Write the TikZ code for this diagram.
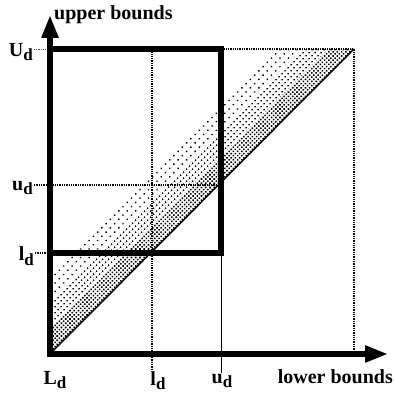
\documentclass[tikz,border=0pt]{standalone}
\usepackage{fontspec}
\setmainfont{Liberation Serif}
\usetikzlibrary{positioning}
\usetikzlibrary{calc}
\usetikzlibrary{patterns.meta}
\usetikzlibrary{arrows.meta}

\newcommand{\dsub}{\raisebox{-0.5ex}{\fontsize{17}{17}\selectfont d}}

\tikzdeclarepattern{name=densedots, type=uncolored,
  bottom left={(-1.5pt,-1.5pt)}, top right={(1.5pt,1.5pt)}, tile size={(3pt,3pt)},
  tile transformation={rotate=45},
  code={\fill (0pt,0pt) circle (1.1pt);}}
\tikzdeclarepattern{name=middots, type=uncolored,
  bottom left={(-2pt,-2pt)}, top right={(2pt,2pt)}, tile size={(4pt,4pt)},
  tile transformation={rotate=45},
  code={\fill (0pt,0pt) circle (1pt);}}
\tikzdeclarepattern{name=sparsedots, type=uncolored,
  bottom left={(-3pt,-3pt)}, top right={(3pt,3pt)}, tile size={(6pt,6pt)},
  tile transformation={rotate=45},
  code={\fill (0pt,0pt) circle (1pt);}}

\begin{document}
\begin{tikzpicture}[
    x=1pt, y=1pt,
    axis/.style={line width=5.5pt, line join=miter,
      {Triangle[length=23pt,width=16pt]}-{Triangle[length=23pt,width=16pt]}},
    bound/.style={line width=6pt, line join=miter},
    guide/.style={densely dotted, line width=1.3pt},
    tick/.style={densely dotted, line width=0.8pt, black!70},
    lbl/.style={font=\fontsize{20}{23}\selectfont\bfseries, inner sep=1pt}
]
    \useasboundingbox (0,0) rectangle (395,406);

    % corner points of the plane
    \coordinate (O) at (50,52);
    \coordinate (Ytip) at (50,391);
    \coordinate (Xtip) at (388,52);
    \coordinate (ly) at (50,153);
    \coordinate (uy) at (50,221);
    \coordinate (Uy) at (50,357);
    \coordinate (lx) at (152,52);
    \coordinate (ux) at (221,52);
    \coordinate (Ux) at (354,52);
    \coordinate (UU) at (354,357);

    % stippled band above the diagonal
    \fill[pattern=densedots] (O) -- (UU) -- ($(UU)+(-26,0)$) -- ($(O)+(0,26)$) -- cycle;
    \fill[pattern=middots] ($(O)+(0,26)$) -- ($(UU)+(-26,0)$) -- ($(UU)+(-52,0)$) -- ($(O)+(0,52)$) -- cycle;
    \fill[pattern=sparsedots] ($(O)+(0,52)$) -- ($(UU)+(-52,0)$) -- ($(UU)+(-78,0)$) -- ($(O)+(0,78)$) -- cycle;

    % labels
    \node[lbl, right=3pt of Ytip] (up) {upper bounds};
    \node[lbl, anchor=north east] (low) at (394,38) {lower bounds};
    \node[lbl, anchor=east] (Ul) at (34,354) {U\dsub};
    \node[lbl, anchor=east] (ul) at (34,218) {u\dsub};
    \node[lbl, anchor=east] (ll) at (35,150) {l\dsub};
    \node[lbl, anchor=north] (Lb) at (55,36) {L\dsub};
    \node[lbl, anchor=north] (lb) at (158,36) {l\dsub};
    \node[lbl, anchor=north] (ub) at (222,33) {u\dsub};

    % guide lines
    \draw[tick] (Ul.east |- Uy) -- (Uy);
    \draw[guide] (ul.east |- uy) -- (ux |- uy);
    \draw[guide] (ll.east |- ly) -- (ly);
    \draw[guide] (lx |- Uy) -- (lx |- lb.north);
    \draw[line width=0.9pt] (ux |- ly) -- (ux |- ub.north);
    \draw[guide] (ux |- Uy) -- (UU) -- (Ux);

    % diagonal
    \draw[line width=1.4pt] (O) -- (UU);

    % bounding box of the interval
    \draw[bound] (ly) rectangle (ux |- Uy);

    % axes
    \draw[axis] (Ytip) -- (O) -- (Xtip);
\end{tikzpicture}
\end{document}
